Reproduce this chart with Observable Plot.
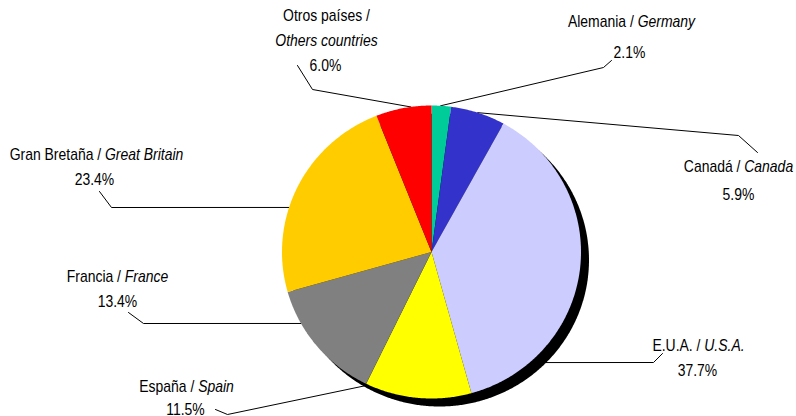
<!DOCTYPE html>
<html>
<head>
<meta charset="utf-8">
<script src="https://cdn.jsdelivr.net/npm/d3@7"></script>
<script src="https://cdn.jsdelivr.net/npm/@observablehq/plot@0.6"></script>
<style>
  html, body { margin: 0; padding: 0; background: #fff; }
  #chart { width: 796px; height: 416px; }
</style>
</head>
<body>
<div id="chart"></div>
<script>
// ---- data ----
const paisES = ["Alemania", "Canadá", "E.U.A.", "España", "Francia", "Gran Bretaña", "Otros países"];
const paisEN = ["Germany", "Canada", "U.S.A.", "Spain", "France", "Great Britain", "Others countries"];
const porcentaje = [2.1, 5.9, 37.7, 11.5, 13.4, 23.4, 6.0];
const pctLabels = ["2.1%", "5.9%", "37.7%", "11.5%", "13.4%", "23.4%", "6.0%"];
const colores = ["#00CC99", "#3333CC", "#CCCCFF", "#FFFF00", "#808080", "#FFCC00", "#FF0000"];

// ---- layout (label placement) ----
const W = 796, H = 416;
const cx = 431, cy = 251.5, rx = 149.5, ry = 146.5;
const shadowDX = 8, shadowDY = 8;
const nameX = [631, 738, 698, 186, 117, 96, 326];
const nameY = [26, 171, 350, 391, 281, 159, 20];
const pctX = [629, 738, 697, 185, 117, 94, 325];
const pctY = [57, 199, 375, 414, 306, 184, 70];
const leadStart = [[611, 60], [757, 152], [662, 353], [215, 409], [128, 312], [99, 191], [297, 65]];
const leadElbow = [[603, 67], [738, 135], [653, 362], [227, 414], [143, 323], [111, 207], [312, 89]];
const leadAngle = [3.5, 18, 139, 204.8, 240.8, 287.7, 352];
const wrapName = [false, false, false, false, false, false, true];

const rad = Math.PI / 180;
const ept = (a, ox = 0, oy = 0) => [cx + ox + rx * Math.sin(a), cy + oy - ry * Math.cos(a)];

// pie slices from values
const arcs = d3.pie().sort(null).value(d => d)(porcentaje);
const slicePts = [];
arcs.forEach((a, i) => {
  slicePts.push({k: i, x: cx, y: cy, c: colores[i]});
  const n = Math.max(2, Math.ceil((a.endAngle - a.startAngle) / (0.5 * rad)));
  for (let j = 0; j <= n; j++) {
    const t = a.startAngle + (a.endAngle - a.startAngle) * j / n;
    const [x, y] = ept(t);
    slicePts.push({k: i, x, y, c: colores[i]});
  }
  slicePts.push({k: i, x: cx, y: cy, c: colores[i]});
});

// shadow ellipse
const shadowPts = d3.range(0, 721).map(j => {
  const [x, y] = ept(j * 0.5 * rad, shadowDX, shadowDY);
  return {x, y};
});

// leader lines
const leadPts = [];
paisES.forEach((p, i) => {
  const [ex, ey] = ept(leadAngle[i] * rad);
  leadPts.push({k: i, x: leadStart[i][0], y: leadStart[i][1]});
  leadPts.push({k: i, x: leadElbow[i][0], y: leadElbow[i][1]});
  leadPts.push({k: i, x: ex, y: ey});
});

const labels = paisES.map((p, i) => ({
  i,
  name: wrapName[i] ? `${p} /` : `${p} / ${paisEN[i]}`,
  en: paisEN[i],
  wrap: wrapName[i],
  nx: nameX[i], ny: nameY[i],
  px: pctX[i], py: pctY[i],
  pct: pctLabels[i]
}));

const font = "'Liberation Sans', Arial, sans-serif";

const chart = Plot.plot({
  width: W,
  height: H,
  margin: 0,
  x: {domain: [0, W], range: [0, W], axis: null},
  y: {domain: [0, H], range: [0, H], axis: null},
  color: {type: "identity"},
  style: {fontFamily: font, background: "#fff", overflow: "visible"},
  marks: [
    Plot.line(leadPts, {x: "x", y: "y", z: "k", stroke: "#000", strokeWidth: 1}),
    Plot.line(shadowPts, {x: "x", y: "y", fill: "#000", stroke: "none"}),
    Plot.line(slicePts, {x: "x", y: "y", z: "k", fill: "c", stroke: "none"}),
    Plot.text(labels, {x: "nx", y: "ny", text: "name", textAnchor: "middle", lineAnchor: "bottom",
      fontSize: 17, fill: "#000"}),
    Plot.text(labels.filter(d => d.wrap), {x: "nx", y: d => d.ny + 25, text: "en", textAnchor: "middle",
      lineAnchor: "bottom", fontSize: 17, fontStyle: "italic", fill: "#000"}),
    Plot.text(labels, {x: "px", y: "py", text: "pct", textAnchor: "middle", lineAnchor: "bottom",
      fontSize: 17, fill: "#000"})
  ]
});

document.getElementById("chart").appendChild(chart);

// italicise the English part of single-line names, then condense all texts (Arial Narrow look)
chart.querySelectorAll("text").forEach(t => {
  const s = t.textContent;
  const k = s.indexOf(" / ");
  if (k >= 0 && k + 3 < s.length) {
    const es = s.slice(0, k + 3), en = s.slice(k + 3);
    while (t.firstChild) t.removeChild(t.firstChild);
    t.appendChild(document.createTextNode(es));
    const ts = document.createElementNS("http://www.w3.org/2000/svg", "tspan");
    ts.setAttribute("font-style", "italic");
    ts.textContent = en;
    t.appendChild(ts);
  }
});
chart.querySelectorAll("text").forEach(t => {
  const len = t.getComputedTextLength();
  if (len > 0) {
    t.setAttribute("textLength", (len * 0.82).toFixed(1));
    t.setAttribute("lengthAdjust", "spacingAndGlyphs");
  }
});
</script>
</body>
</html>
